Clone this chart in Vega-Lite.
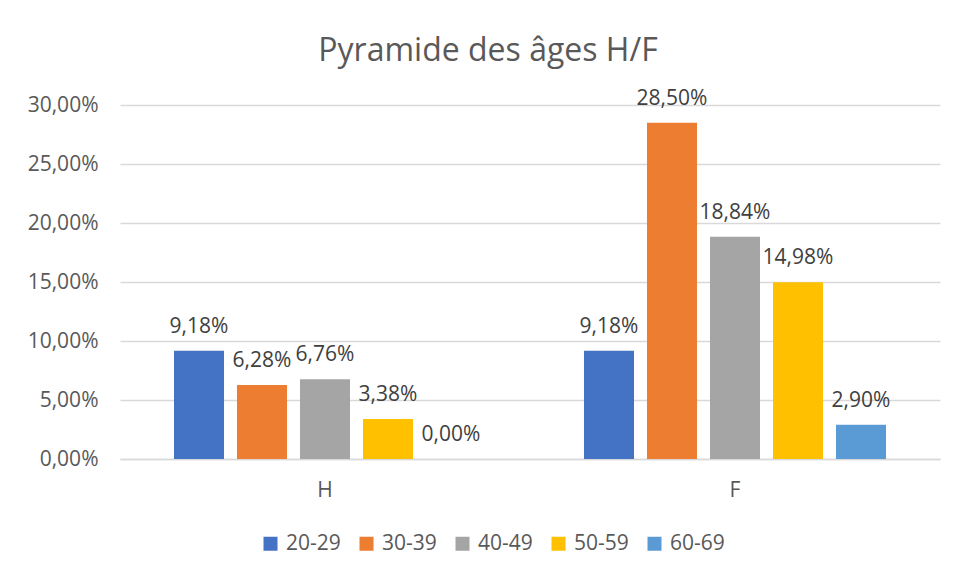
{
  "$schema": "https://vega.github.io/schema/vega-lite/v6.json",
  "width": 820,
  "height": 354,
  "autosize": "none",
  "padding": {"left": 120, "top": 105, "right": 19, "bottom": 116},
  "background": "white",
  "config": {
    "locale": {"number": {"decimal": ",", "thousands": " ", "grouping": [3], "currency": ["", " €"]}},
    "font": "Open Sans",
    "view": {"stroke": null}
  },
  "title": {
    "text": "Pyramide des âges H/F",
    "font": "Open Sans",
    "fontSize": 32,
    "fontWeight": "normal",
    "color": "#595959",
    "anchor": "middle",
    "frame": "group",
    "dx": -42,
    "offset": 20
  },
  "data": {
    "values": [
      {"sexe": "H", "age": "20-29", "pct": 0.0918},
      {"sexe": "H", "age": "30-39", "pct": 0.0628},
      {"sexe": "H", "age": "40-49", "pct": 0.0676},
      {"sexe": "H", "age": "50-59", "pct": 0.0338},
      {"sexe": "H", "age": "60-69", "pct": 0.0},
      {"sexe": "F", "age": "20-29", "pct": 0.0918},
      {"sexe": "F", "age": "30-39", "pct": 0.2850},
      {"sexe": "F", "age": "40-49", "pct": 0.1884},
      {"sexe": "F", "age": "50-59", "pct": 0.1498},
      {"sexe": "F", "age": "60-69", "pct": 0.0290}
    ]
  },
  "encoding": {
    "x": {
      "field": "sexe",
      "type": "nominal",
      "sort": ["H", "F"],
      "scale": {"paddingInner": 0, "paddingOuter": 0},
      "axis": {
        "title": null,
        "labelAngle": 0,
        "labelFont": "Open Sans",
        "labelFontSize": 21,
        "labelColor": "#595959",
        "labelPadding": 20,
        "ticks": false,
        "domainColor": "#d9d9d9",
        "domainWidth": 1.5
      }
    },
    "xOffset": {
      "field": "age",
      "type": "nominal",
      "sort": ["20-29", "30-39", "40-49", "50-59", "60-69"],
      "scale": {"paddingInner": 0.206, "paddingOuter": 0.857}
    },
    "y": {
      "field": "pct",
      "type": "quantitative",
      "scale": {"domain": [0, 0.3], "nice": false},
      "axis": {
        "title": null,
        "format": ".2%",
        "values": [0, 0.05, 0.1, 0.15, 0.2, 0.25, 0.3],
        "labelFont": "Open Sans",
        "labelFontSize": 21,
        "labelColor": "#595959",
        "labelPadding": 22,
        "ticks": false,
        "domain": false,
        "gridColor": "#d9d9d9",
        "gridWidth": 1.5
      }
    }
  },
  "layer": [
    {
      "mark": {"type": "bar"},
      "encoding": {
        "color": {
          "field": "age",
          "type": "nominal",
          "sort": ["20-29", "30-39", "40-49", "50-59", "60-69"],
          "scale": {
            "domain": ["20-29", "30-39", "40-49", "50-59", "60-69"],
            "range": ["#4472C4", "#ED7D31", "#A5A5A5", "#FFC000", "#5B9BD5"]
          },
          "legend": {
            "title": null,
            "orient": "none",
            "legendX": 140,
            "legendY": 428,
            "direction": "horizontal",
            "columns": 5,
            "symbolType": "square",
            "symbolSize": 196,
            "symbolStrokeWidth": 0,
            "labelFont": "Open Sans",
            "labelFontSize": 21,
            "labelColor": "#595959",
            "labelOffset": 5,
            "columnPadding": 15
          }
        }
      }
    },
    {
      "mark": {
        "type": "text",
        "baseline": "alphabetic",
        "dy": -18,
        "font": "Open Sans",
        "fontSize": 21,
        "color": "#404040"
      },
      "encoding": {
        "text": {"field": "pct", "type": "quantitative", "format": ".2%"}
      }
    }
  ]
}
